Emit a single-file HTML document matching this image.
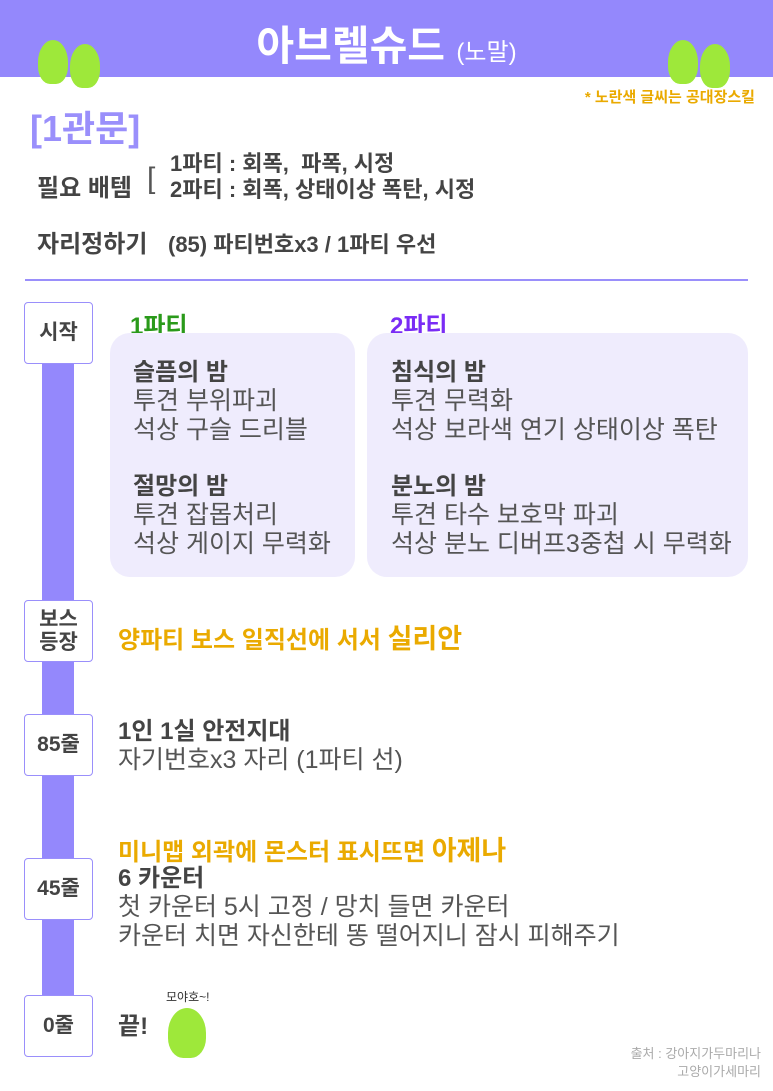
<!DOCTYPE html>
<html><head><meta charset="utf-8"><style>
*{margin:0;padding:0;box-sizing:border-box}
body{width:773px;height:1091px;background:#fff;position:relative;overflow:hidden;font-family:"Liberation Sans","Noto Sans CJK KR",sans-serif;color:#444}
.a{position:absolute;white-space:nowrap}
.box{position:absolute;left:24px;width:69px;background:#fff;border:1.5px solid #9a8ffb;border-radius:4px;display:flex;align-items:center;justify-content:center;text-align:center;font-size:21px;font-weight:bold;color:#444;line-height:1.1}
.card{position:absolute;background:#efecfd;border-radius:20px}
.t{font-size:24px;font-weight:bold;color:#444;line-height:29px}
.b{font-size:25px;color:#555;line-height:29px}
.y{color:#eaaa00;font-weight:bold}
.blob{position:absolute;width:30px;height:44px;background:#9ee83a;border-radius:50% 50% 40% 40%}
</style></head><body>
<div class="a" style="left:0;top:0;width:773px;height:77px;background:#9488fc"></div>
<div class="a" style="left:0;width:773px;top:12px;text-align:center;color:#fff;font-size:41px;font-weight:bold">아브렐슈드 <span style="font-size:24px;font-weight:normal">(노말)</span></div>
<div class="blob" style="left:38px;top:40px"></div>
<div class="blob" style="left:70px;top:44px"></div>
<div class="blob" style="left:668px;top:40px"></div>
<div class="blob" style="left:700px;top:44px"></div>
<div class="a y" style="right:18px;top:86px;font-size:15px">* 노란색 글씨는 공대장스킬</div>
<div class="a" style="left:30px;top:100px;font-size:36px;font-weight:bold;color:#9a8ffb">[1관문]</div>
<div class="a" style="left:37px;top:168px;font-size:24px;font-weight:bold">필요 배템</div>
<div class="a" style="left:147px;top:162px;font-size:30px;color:#555">[</div>
<div class="a" style="left:170px;top:151px;font-size:22px;font-weight:bold;line-height:26px">1파티 : 회폭,&nbsp; 파폭, 시정<br>2파티 : 회폭, 상태이상 폭탄, 시정</div>
<div class="a" style="left:37px;top:224px;font-size:24px;font-weight:bold">자리정하기</div>
<div class="a" style="left:168px;top:227px;font-size:22px;font-weight:bold">(85) 파티번호x3 / 1파티 우선</div>
<div class="a" style="left:25px;top:279px;width:723px;height:2px;background:#9a8ffb"></div>
<div class="a" style="left:42px;top:360px;width:32px;height:640px;background:#9488fc"></div>
<div class="box" style="top:302px;height:62px">시작</div>
<div class="box" style="top:600px;height:62px">보스<br>등장</div>
<div class="box" style="top:714px;height:62px">85줄</div>
<div class="box" style="top:858px;height:62px">45줄</div>
<div class="box" style="top:995px;height:62px">0줄</div>
<div class="a" style="left:130px;top:306px;font-size:24px;font-weight:bold;color:#2a9a1a">1파티</div>
<div class="a" style="left:390px;top:306px;font-size:24px;font-weight:bold;color:#7a2cf5">2파티</div>
<div class="card" style="left:110px;top:333px;width:245px;height:244px"></div>
<div class="card" style="left:367px;top:333px;width:381px;height:244px"></div>
<div class="a" style="left:133px;top:358px"><div class="t">슬픔의 밤</div><div class="b">투견 부위파괴<br>석상 구슬 드리블</div><div class="t" style="margin-top:27px">절망의 밤</div><div class="b">투견 잡몹처리<br>석상 게이지 무력화</div></div>
<div class="a" style="left:391px;top:358px"><div class="t">침식의 밤</div><div class="b">투견 무력화<br>석상 보라색 연기 상태이상 폭탄</div><div class="t" style="margin-top:27px">분노의 밤</div><div class="b">투견 타수 보호막 파괴<br>석상 분노 디버프3중첩 시 무력화</div></div>
<div class="a y" style="left:118px;top:617px;font-size:24px">양파티 보스 일직선에 서서 <span style="font-size:27px">실리안</span></div>
<div class="a" style="left:118px;top:717px"><div class="t">1인 1실 안전지대</div><div class="b">자기번호x3 자리 (1파티 선)</div></div>
<div class="a y" style="left:118px;top:829px;font-size:24px">미니맵 외곽에 몬스터 표시뜨면 <span style="font-size:27px">아제나</span></div>
<div class="a" style="left:118px;top:864px"><div class="t">6 카운터</div><div class="b">첫 카운터 5시 고정 / 망치 들면 카운터<br>카운터 치면 자신한테 똥 떨어지니 잠시 피해주기</div></div>
<div class="a t" style="left:118px;top:1012px">끝!</div>
<div class="blob" style="left:168px;top:1008px;width:38px;height:50px"></div>
<div class="a" style="left:166px;top:988px;font-size:12px;color:#333">모야호~!</div>
<div class="a" style="right:12px;top:1045px;font-size:13px;color:#aaa;text-align:right;line-height:18px">출처 : 강아지가두마리나<br>고양이가세마리</div>
</body></html>
